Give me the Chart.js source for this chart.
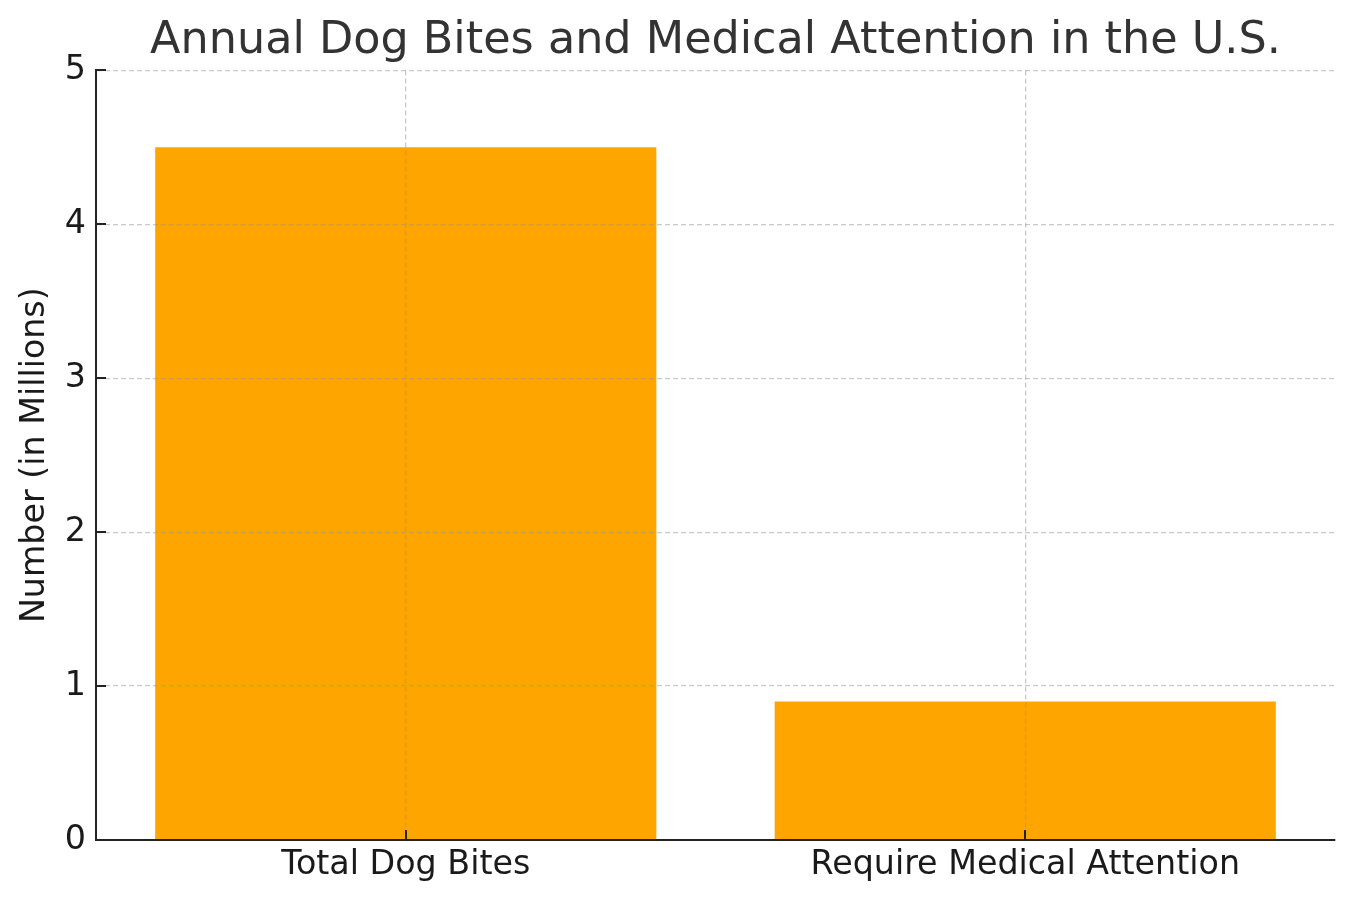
<!DOCTYPE html>
<html>
<head>
<meta charset="utf-8">
<script src="https://cdn.jsdelivr.net/npm/chart.js@4"></script>
<style>
  body { margin: 0; background: #fff; }
  #wrap { width: 1355px; height: 903px; }
</style>
</head>
<body>
<div id="wrap"><canvas id="biteChart" width="1355" height="903"></canvas></div>
<script>
const categories = ['Total Dog Bites', 'Require Medical Attention'];
const biteValues = [4.5, 0.9];
const yTicks = [0, 1, 2, 3, 4, 5];

const FONT = "'DejaVu Sans', sans-serif";

// matplotlib-style ticks pointing into the plot
const inwardTicks = {
    id: 'inwardTicks',
    afterDraw(chart) {
        const ctx = chart.ctx;
        const area = chart.chartArea;
        const x = chart.scales.x, y = chart.scales.y;
        ctx.save();
        ctx.strokeStyle = '#222';
        ctx.lineWidth = 2;
        ctx.beginPath();
        yTicks.forEach(v => {
            const py = Math.round(y.getPixelForValue(v));
            ctx.moveTo(area.left, py);
            ctx.lineTo(area.left + 10, py);
        });
        categories.forEach((c, i) => {
            const px = Math.round(x.getPixelForValue(i));
            ctx.moveTo(px, area.bottom);
            ctx.lineTo(px, area.bottom - 10);
        });
        ctx.stroke();
        ctx.restore();
    }
};

const ctx = document.getElementById('biteChart').getContext('2d');
const biteChart = new Chart(ctx, {
    type: 'bar',
    data: {
        labels: categories,
        datasets: [{
            label: 'Number (in Millions)',
            data: biteValues,
            backgroundColor: '#FFA500',
            borderWidth: 0,
            barPercentage: 0.809,
            categoryPercentage: 1.0
        }]
    },
    options: {
        responsive: false,
        animation: false,
        layout: { padding: { left: 0, right: 20, top: 0, bottom: 0 } },
        plugins: {
            legend: { display: false },
            tooltip: { enabled: false },
            title: {
                display: true,
                fullSize: false,
                text: 'Annual Dog Bites and Medical Attention in the U.S.',
                color: '#333333',
                font: { family: FONT, size: 44.5, weight: 'normal' },
                padding: { top: 15, bottom: 2 }
            }
        },
        scales: {
            x: {
                offset: true,
                grid: {
                    offset: false,
                    drawTicks: false,
                    color: 'rgba(150,150,150,0.5)',
                    lineWidth: 1.3,
                    z: 1
                },
                border: { display: true, color: '#222', width: 2, dash: [5, 3], z: 2 },
                ticks: {
                    color: '#1a1a1a',
                    font: { family: FONT, size: 33.3 },
                    padding: 5,
                    maxRotation: 0
                },
                afterFit(scale) { scale.height = 63; }
            },
            y: {
                min: 0,
                max: 5,
                afterBuildTicks(scale) { scale.ticks = yTicks.map(v => ({ value: v })); },
                grid: {
                    drawTicks: false,
                    color: 'rgba(150,150,150,0.5)',
                    lineWidth: 1.3,
                    z: 1
                },
                border: { display: true, color: '#222', width: 2, dash: [5, 3], z: 2 },
                ticks: {
                    color: '#1a1a1a',
                    font: { family: FONT, size: 33.3 },
                    padding: 10
                },
                title: {
                    display: true,
                    text: 'Number (in Millions)',
                    color: '#1a1a1a',
                    font: { family: FONT, size: 33.3 },
                    padding: { top: 15, bottom: 0 }
                },
                afterFit(scale) { scale.width = 96; }
            }
        }
    },
    plugins: [inwardTicks]
});
</script>
</body>
</html>
